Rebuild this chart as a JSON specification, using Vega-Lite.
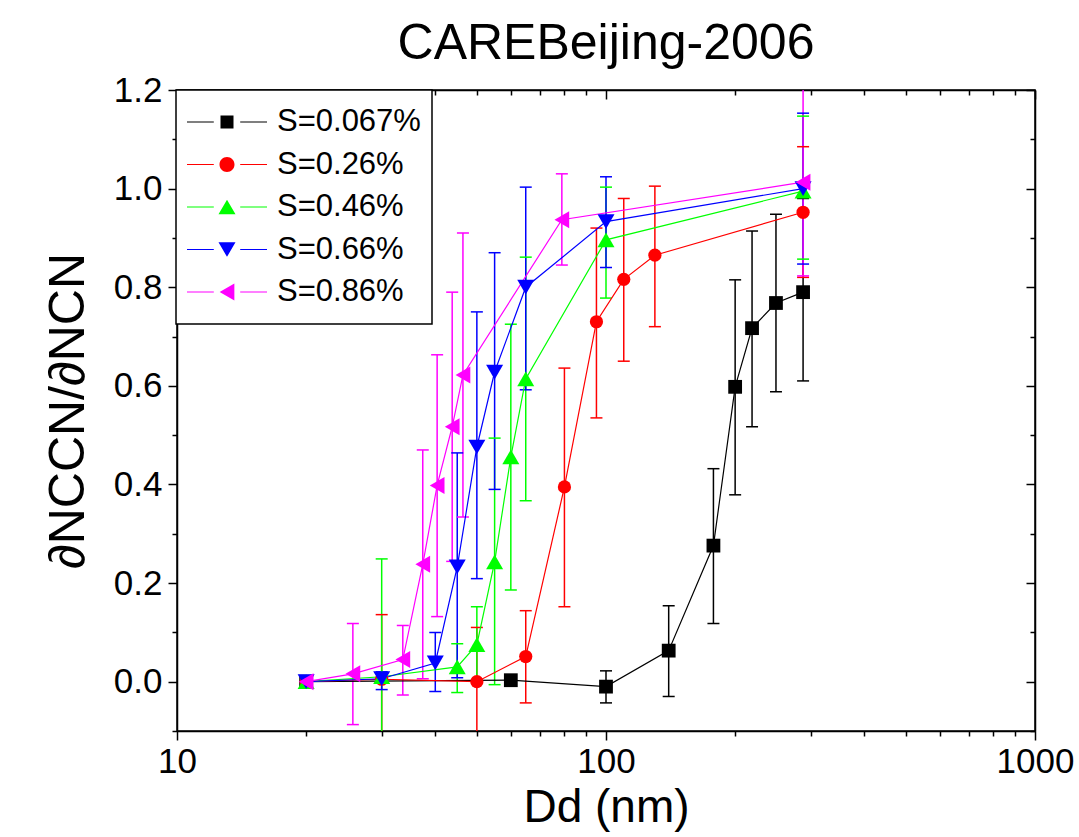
{
  "$schema": "https://vega.github.io/schema/vega-lite/v6.json",
  "width": 858,
  "height": 641,
  "autosize": {"type": "none"},
  "padding": {"left": 177, "top": 90, "right": 44, "bottom": 106},
  "title": {"text": "CAREBeijing-2006", "fontSize": 50, "font": "Liberation Sans", "fontWeight": "normal", "color": "black", "offset": 4, "anchor": "middle"},
  "config": {
    "view": {"stroke": "black", "strokeWidth": 1.5},
    "font": "Liberation Sans",
    "axis": {"grid": false, "domainColor": "black", "domainWidth": 1.5, "tickColor": "black", "tickWidth": 1.5, "labelColor": "black", "titleColor": "black", "labelFont": "Liberation Sans", "titleFont": "Liberation Sans", "labelFontSize": 35, "titleFontSize": 46, "titleFontWeight": "normal"},
    "legend": {"strokeColor": "black", "strokeWidth": 1.5, "fillColor": "white", "padding": 11, "labelFont": "Liberation Sans", "labelFontSize": 31, "labelColor": "black", "labelLimit": 400, "symbolStrokeWidth": 0}
  },
  "data": {"values": [
    {"s": "S=0.067%", "d": 20, "r": 0.0, "lo": -0.008, "hi": 0.008},
    {"s": "S=0.067%", "d": 60, "r": 0.003, "lo": -0.002, "hi": 0.008},
    {"s": "S=0.067%", "d": 100, "r": -0.01, "lo": -0.043, "hi": 0.022},
    {"s": "S=0.067%", "d": 140, "r": 0.063, "lo": -0.03, "hi": 0.154},
    {"s": "S=0.067%", "d": 178, "r": 0.276, "lo": 0.118, "hi": 0.432},
    {"s": "S=0.067%", "d": 200, "r": 0.598, "lo": 0.379, "hi": 0.815},
    {"s": "S=0.067%", "d": 219, "r": 0.717, "lo": 0.517, "hi": 0.914},
    {"s": "S=0.067%", "d": 249, "r": 0.768, "lo": 0.588, "hi": 0.948},
    {"s": "S=0.067%", "d": 288, "r": 0.79, "lo": 0.61, "hi": 0.98},
    {"s": "S=0.26%", "d": 20, "r": 0.0, "lo": -0.005, "hi": 0.005},
    {"s": "S=0.26%", "d": 30, "r": 0.005, "lo": -0.125, "hi": 0.136},
    {"s": "S=0.26%", "d": 50, "r": 0.0, "lo": -0.11, "hi": 0.11},
    {"s": "S=0.26%", "d": 65, "r": 0.051, "lo": -0.043, "hi": 0.144},
    {"s": "S=0.26%", "d": 80, "r": 0.395, "lo": 0.152, "hi": 0.636},
    {"s": "S=0.26%", "d": 95, "r": 0.73, "lo": 0.535, "hi": 0.92},
    {"s": "S=0.26%", "d": 110, "r": 0.816, "lo": 0.65, "hi": 0.98},
    {"s": "S=0.26%", "d": 130, "r": 0.865, "lo": 0.72, "hi": 1.005},
    {"s": "S=0.26%", "d": 288, "r": 0.952, "lo": 0.82, "hi": 1.085},
    {"s": "S=0.46%", "d": 20, "r": 0.0, "lo": -0.005, "hi": 0.005},
    {"s": "S=0.46%", "d": 30, "r": 0.01, "lo": -0.23, "hi": 0.249},
    {"s": "S=0.46%", "d": 45, "r": 0.03, "lo": -0.022, "hi": 0.077},
    {"s": "S=0.46%", "d": 50, "r": 0.075, "lo": -0.002, "hi": 0.152},
    {"s": "S=0.46%", "d": 55, "r": 0.243, "lo": -0.006, "hi": 0.494},
    {"s": "S=0.46%", "d": 60, "r": 0.456, "lo": 0.186, "hi": 0.725},
    {"s": "S=0.46%", "d": 65, "r": 0.614, "lo": 0.367, "hi": 0.861},
    {"s": "S=0.46%", "d": 100, "r": 0.896, "lo": 0.778, "hi": 1.003},
    {"s": "S=0.46%", "d": 288, "r": 0.995, "lo": 0.857, "hi": 1.147},
    {"s": "S=0.66%", "d": 20, "r": 0.0, "lo": -0.005, "hi": 0.005},
    {"s": "S=0.66%", "d": 30, "r": 0.006, "lo": -0.016, "hi": 0.02},
    {"s": "S=0.66%", "d": 40, "r": 0.038, "lo": -0.02, "hi": 0.1},
    {"s": "S=0.66%", "d": 45, "r": 0.233, "lo": 0.008, "hi": 0.464},
    {"s": "S=0.66%", "d": 50, "r": 0.476, "lo": 0.209, "hi": 0.75},
    {"s": "S=0.66%", "d": 55, "r": 0.628, "lo": 0.39, "hi": 0.87},
    {"s": "S=0.66%", "d": 65, "r": 0.8, "lo": 0.592, "hi": 1.003},
    {"s": "S=0.66%", "d": 100, "r": 0.933, "lo": 0.84, "hi": 1.024},
    {"s": "S=0.66%", "d": 288, "r": 1.0, "lo": 0.847, "hi": 1.153},
    {"s": "S=0.86%", "d": 20, "r": 0.0, "lo": -0.005, "hi": 0.005},
    {"s": "S=0.86%", "d": 25.7, "r": 0.016, "lo": -0.087, "hi": 0.118},
    {"s": "S=0.86%", "d": 33.6, "r": 0.045, "lo": -0.027, "hi": 0.114},
    {"s": "S=0.86%", "d": 37.4, "r": 0.238, "lo": 0.006, "hi": 0.47},
    {"s": "S=0.86%", "d": 40.4, "r": 0.398, "lo": 0.132, "hi": 0.663},
    {"s": "S=0.86%", "d": 43.8, "r": 0.517, "lo": 0.244, "hi": 0.79},
    {"s": "S=0.86%", "d": 46.4, "r": 0.622, "lo": 0.334, "hi": 0.91},
    {"s": "S=0.86%", "d": 78.9, "r": 0.937, "lo": 0.845, "hi": 1.03},
    {"s": "S=0.86%", "d": 288, "r": 1.013, "lo": 0.823, "hi": 1.205}
  ]},
  "encoding": {
    "color": {"field": "s", "type": "nominal", "title": null,
      "scale": {"domain": ["S=0.067%", "S=0.26%", "S=0.46%", "S=0.66%", "S=0.86%"], "range": ["#000000", "#ff0000", "#00ff00", "#0000ff", "#ff00ff"]},
      "legend": {"orient": "none", "legendX": -1, "legendY": 0, "title": null, "symbolSize": 6400, "symbolOffset": 0, "labelOffset": 10, "clipHeight": 42, "rowPadding": 0.5, "padding": 11, "symbolStrokeWidth": 0, "symbolOpacity": 1}
    },
    "x": {"field": "d", "type": "quantitative", "scale": {"type": "log", "domain": [10, 1000], "nice": false}, "axis": null},
    "y": {"field": "r", "type": "quantitative", "scale": {"domain": [-0.1, 1.2], "nice": false, "zero": false}, "axis": null}
  },
  "resolve": {"axis": {"x": "independent", "y": "independent"}},
  "layer": [
    {
      "mark": {"type": "rule", "strokeWidth": 1.5, "clip": true},
      "encoding": {
        "x": {"field": "d", "type": "quantitative", "scale": {"type": "log", "domain": [10, 1000], "nice": false},
          "axis": {"orient": "bottom", "title": "Dd (nm)", "titlePadding": 6,
            "values": [10, 20, 30, 40, 50, 60, 70, 80, 90, 100, 200, 300, 400, 500, 600, 700, 800, 900, 1000],
            "labelExpr": "datum.value == 10 || datum.value == 100 || datum.value == 1000 ? datum.value : ''",
            "tickSize": {"condition": {"test": "datum.value == 10 || datum.value == 100 || datum.value == 1000", "value": 9}, "value": 5},
            "labelPadding": 4, "labelFlush": false, "labelOverlap": false}},
        "y": {"field": "lo", "type": "quantitative", "scale": {"domain": [-0.1, 1.2], "nice": false, "zero": false},
          "axis": {"orient": "left", "title": "∂NCCN/∂NCN", "titlePadding": 20, "titleFontSize": 50,
            "values": [-0.1, 0, 0.1, 0.2, 0.3, 0.4, 0.5, 0.6, 0.7, 0.8, 0.9, 1.0, 1.1, 1.2],
            "labelExpr": "abs(round(datum.value * 10)) % 2 == 0 ? format(datum.value, '.1f') : ''",
            "tickSize": {"condition": {"test": "abs(round(datum.value * 10)) % 2 == 0", "value": 9}, "value": 5},
            "labelPadding": 6, "labelFlush": false, "labelOverlap": false}},
        "y2": {"field": "hi"}
      }
    },
    {
      "mark": {"type": "tick", "orient": "horizontal", "size": 12, "thickness": 1.5, "clip": true, "opacity": 1},
      "encoding": {"y": {"field": "lo", "type": "quantitative", "scale": {"domain": [-0.1, 1.2], "nice": false, "zero": false}, "axis": null}}
    },
    {
      "mark": {"type": "tick", "orient": "horizontal", "size": 12, "thickness": 1.5, "clip": true, "opacity": 1},
      "encoding": {"y": {"field": "hi", "type": "quantitative", "scale": {"domain": [-0.1, 1.2], "nice": false, "zero": false}, "axis": null}}
    },
    {
      "mark": {"type": "line", "strokeWidth": 1.2, "clip": true},
      "encoding": {
        "x": {"field": "d", "type": "quantitative", "scale": {"type": "log", "domain": [10, 1000], "nice": false},
          "axis": {"orient": "top", "title": null, "labels": false,
            "values": [10, 20, 30, 40, 50, 60, 70, 80, 90, 100, 200, 300, 400, 500, 600, 700, 800, 900, 1000],
            "tickSize": {"condition": {"test": "datum.value == 10 || datum.value == 100 || datum.value == 1000", "value": -9}, "value": -5}}},
        "y": {"field": "r", "type": "quantitative", "scale": {"domain": [-0.1, 1.2], "nice": false, "zero": false},
          "axis": {"orient": "right", "title": null, "labels": false,
            "values": [-0.1, 0, 0.1, 0.2, 0.3, 0.4, 0.5, 0.6, 0.7, 0.8, 0.9, 1.0, 1.1, 1.2],
            "tickSize": {"condition": {"test": "abs(round(datum.value * 10)) % 2 == 0", "value": -9}, "value": -5}}}
      }
    },
    {
      "transform": [{"filter": "false"}],
      "mark": {"type": "point", "filled": true, "opacity": 1, "strokeWidth": 0},
      "encoding": {
        "shape": {"field": "s", "type": "nominal",
          "scale": {"domain": ["S=0.067%", "S=0.26%", "S=0.46%", "S=0.66%", "S=0.86%"],
            "range": [
              "M-0.1625,-0.1625L0.1625,-0.1625L0.1625,0.1625L-0.1625,0.1625ZM-1,-0.014L-0.33,-0.014L-0.33,0.014L-1,0.014ZM0.33,-0.014L1,-0.014L1,0.014L0.33,0.014Z",
              "M-0.1875,0A0.1875,0.1875,0,1,0,0.1875,0A0.1875,0.1875,0,1,0,-0.1875,0ZM-1,-0.014L-0.33,-0.014L-0.33,0.014L-1,0.014ZM0.33,-0.014L1,-0.014L1,0.014L0.33,0.014Z",
              "M0,-0.184L0.2125,0.184L-0.2125,0.184ZM-1,-0.014L-0.33,-0.014L-0.33,0.014L-1,0.014ZM0.33,-0.014L1,-0.014L1,0.014L0.33,0.014Z",
              "M0,0.184L0.2125,-0.184L-0.2125,-0.184ZM-1,-0.014L-0.33,-0.014L-0.33,0.014L-1,0.014ZM0.33,-0.014L1,-0.014L1,0.014L0.33,0.014Z",
              "M-0.184,0L0.184,-0.2125L0.184,0.2125ZM-1,-0.014L-0.33,-0.014L-0.33,0.014L-1,0.014ZM0.33,-0.014L1,-0.014L1,0.014L0.33,0.014Z"
            ]},
          "legend": {"orient": "none", "legendX": -1, "legendY": 0, "title": null, "symbolSize": 6400, "symbolOffset": 0, "labelOffset": 10, "clipHeight": 42, "rowPadding": 0.5, "padding": 11, "symbolStrokeWidth": 0, "symbolOpacity": 1}}
      }
    },
    {
      "transform": [{"filter": "datum.s == 'S=0.067%'"}],
      "mark": {"type": "point", "filled": true, "opacity": 1, "strokeWidth": 0, "clip": true, "shape": "square", "size": 190}
    },
    {
      "transform": [{"filter": "datum.s == 'S=0.26%'"}],
      "mark": {"type": "point", "filled": true, "opacity": 1, "strokeWidth": 0, "clip": true, "shape": "circle", "size": 175}
    },
    {
      "transform": [{"filter": "datum.s == 'S=0.46%'"}],
      "mark": {"type": "point", "filled": true, "opacity": 1, "strokeWidth": 0, "clip": true, "shape": "triangle-up", "size": 289}
    },
    {
      "transform": [{"filter": "datum.s == 'S=0.66%'"}],
      "mark": {"type": "point", "filled": true, "opacity": 1, "strokeWidth": 0, "clip": true, "shape": "triangle-down", "size": 289}
    },
    {
      "transform": [{"filter": "datum.s == 'S=0.86%'"}],
      "mark": {"type": "point", "filled": true, "opacity": 1, "strokeWidth": 0, "clip": true, "shape": "triangle-left", "size": 289}
    }
  ]
}
